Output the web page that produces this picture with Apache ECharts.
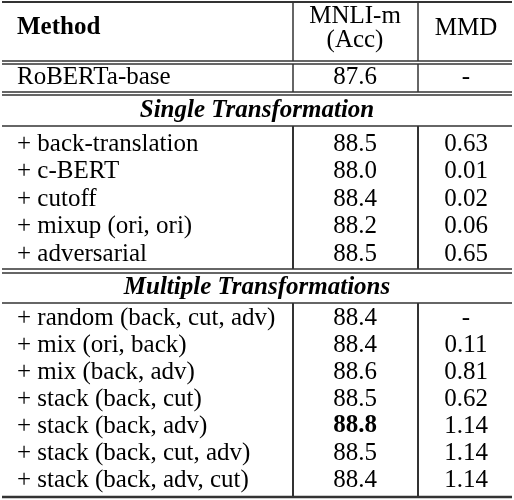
<!DOCTYPE html>
<html><head><meta charset="utf-8">
<script src="https://cdn.jsdelivr.net/npm/echarts@6/dist/echarts.min.js"></script>
<style>html,body{margin:0;padding:0;background:#fff}#c{width:514px;height:500px}</style>
</head><body><div id="c"></div>
<script>
const headers = ["Method", "MNLI-m\n(Acc)", "MMD"];
const baseRow = ["RoBERTa-base", "87.6", "-"];
const section1 = "Single Transformation";
const singleMethods = ["+ back-translation", "+ c-BERT", "+ cutoff", "+ mixup (ori, ori)", "+ adversarial"];
const singleAcc = ["88.5", "88.0", "88.4", "88.2", "88.5"];
const singleMMD = ["0.63", "0.01", "0.02", "0.06", "0.65"];
const section2 = "Multiple Transformations";
const multiMethods = ["+ random (back, cut, adv)", "+ mix (ori, back)", "+ mix (back, adv)", "+ stack (back, cut)", "+ stack (back, adv)", "+ stack (back, cut, adv)", "+ stack (back, adv, cut)"];
const multiAcc = ["88.4", "88.4", "88.6", "88.5", "88.8", "88.5", "88.4"];
const multiMMD = ["-", "0.11", "0.81", "0.62", "1.14", "1.14", "1.14"];
const boldAcc = "88.8";

const F = "Liberation Serif";
const FS = 25;
const L = 2, R = 512, C1 = 293, C2 = 418;
const X0 = 17, XM1 = 355, XM2 = 466;
const g = [];
function hline(y, w){ g.push({type:'line', shape:{x1:L,y1:y,x2:R,y2:y}, style:{stroke:'#333', lineWidth:w||1.5}}); }
function vline(x, y1, y2){ g.push({type:'line', shape:{x1:x,y1:y1,x2:x,y2:y2}, style:{stroke:'#333', lineWidth:1.5}}); }
function text(s, x, y, align, weight, style){
  g.push({type:'text', x:x, y:y, style:{text:s, x:0, y:0, align:align, verticalAlign:'middle', fontFamily:F, fontSize:FS, fontWeight:weight||'normal', fontStyle:style||'normal', fill:'#000', lineHeight:24}});
}
function row(cells, y, top, bot){
  text(cells[0], X0, y, 'left');
  text(cells[1], XM1, y, 'center', cells[1]===boldAcc && cells[3] ? 'bold' : 'normal');
  text(cells[2], XM2, y, 'center');
  vline(C1, top, bot); vline(C2, top, bot);
}
hline(2, 2);
text(headers[0], X0, 28, 'left', 'bold');
text(headers[1], XM1, 28, 'center');
text(headers[2], XM2, 28, 'center');
vline(C1, 2, 61); vline(C2, 2, 61);
hline(61); hline(64);
row(baseRow, 77, 64, 92);
hline(92); hline(95);
text(section1, (L+R)/2, 111, 'center', 'bold', 'italic');
hline(126);
singleMethods.forEach((m,i)=>{ const y = 144 + 27.5*i; row([m, singleAcc[i], singleMMD[i]], y, 126, 269); });
hline(269); hline(273);
text(section2, (L+R)/2, 288, 'center', 'bold', 'italic');
hline(303);
multiMethods.forEach((m,i)=>{ const y = 318 + 27*i; row([m, multiAcc[i], multiMMD[i], true], y, 303, 497); });
hline(497, 2.5);

const chart = echarts.init(document.getElementById('c'), null, {renderer:'canvas'});
chart.setOption({animation:false, graphic:{elements:g}});
</script></body></html>
